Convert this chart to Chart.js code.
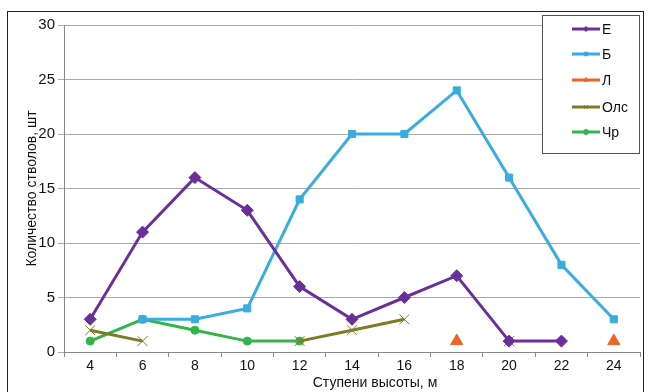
<!DOCTYPE html>
<html>
<head>
<meta charset="utf-8">
<script src="https://cdn.jsdelivr.net/npm/chart.js@4"></script>
<style>
  body { margin: 0; background: #fff; }
  #wrap { position: relative; width: 648px; height: 392px; }
  #frame { position: absolute; left: 7px; top: 11px; width: 637px; height: 400px; border: 1.5px solid #222; box-sizing: border-box; }
  #legend { position: absolute; left: 542px; top: 15px; width: 98px; height: 139px; background: #fff; border: 1px solid #555; box-sizing: border-box; font-family: Arial, "Liberation Sans", sans-serif; font-size: 14px; color: #111; }
  .item { position: absolute; left: 28px; height: 16px; display: flex; align-items: center; }
  .item canvas { margin-right: 1px; }
</style>
</head>
<body>
<div id="wrap">
  <canvas id="chart" width="648" height="392"></canvas>
  <div id="frame"></div>
  <div id="legend"></div>
</div>
<script>
// heights (m) and tree counts per species
const steps = ["4", "6", "8", "10", "12", "14", "16", "18", "20", "22", "24"];
const spruce = [3, 11, 16, 13, 6, 3, 5, 7, 1, 1, null];
const birch = [null, 3, 3, 4, 14, 20, 20, 24, 16, 8, 3];
const larch = [null, null, null, null, null, null, null, 1, null, null, 1];
const alder = [2, 1, null, null, 1, 2, 3, null, 1, null, null];
const cherry = [1, 3, 2, 1, 1, null, null, null, null, null, null];
const yTicks = [0, 5, 10, 15, 20, 25, 30];

const font = "Arial, 'Liberation Sans', sans-serif";

const series = [
  { label: "Е", data: spruce, color: "#6a2f98", style: "rectRot", r: 6 },
  { label: "Б", data: birch, color: "#39ace0", style: "rect", r: 5 },
  { label: "Л", data: larch, color: "#ef6424", style: "triangle", r: 7 },
  { label: "Олс", data: alder, color: "#7d7b24", style: "crossRot", r: 7 },
  { label: "Чр", data: cherry, color: "#34b44a", style: "circle", r: 4 }
];

// x axis title is drawn a bit right of centre, like the source
const xTitle = {
  id: "xTitle",
  afterDraw(chart) {
    const ctx = chart.ctx;
    ctx.save();
    ctx.font = "14px " + font;
    ctx.fillStyle = "#111";
    ctx.textAlign = "center";
    ctx.textBaseline = "middle";
    ctx.fillText("Ступени высоты, м", 375, 383);
    ctx.restore();
  }
};

new Chart(document.getElementById("chart"), {
  type: "line",
  data: {
    labels: steps,
    datasets: series.map(s => ({
      label: s.label,
      data: s.data,
      borderColor: s.color,
      backgroundColor: s.color,
      borderWidth: 3,
      pointStyle: s.style,
      pointRadius: s.r,
      pointBorderWidth: 1,
      pointBorderColor: s.color,
      pointBackgroundColor: s.color,
      spanGaps: false,
      tension: 0
    }))
  },
  options: {
    responsive: false,
    animation: false,
    layout: { padding: { left: 24, top: 25, right: 5, bottom: 0 } },
    plugins: { legend: { display: false }, tooltip: { enabled: false } },
    scales: {
      x: {
        offset: true,
        grid: { display: true, offset: true, drawOnChartArea: false, color: "#888", tickLength: 5 },
        border: { color: "#888", width: 1 },
        ticks: { color: "#111", font: { family: font, size: 14 }, padding: 1, maxRotation: 0 },
        afterFit: s => { s.height = 40; }
      },
      y: {
        min: 0, max: 30,
        afterBuildTicks: s => { s.ticks = yTicks.map(v => ({ value: v })); },
        grid: { color: "#aaa", lineWidth: 1, tickLength: 6 },
        border: { color: "#888", width: 1 },
        ticks: { color: "#111", font: { family: font, size: 15 }, padding: 3 },
        title: { display: true, text: "Количество стволов, шт", color: "#111", font: { family: font, size: 14 }, padding: { top: 0, bottom: 0 } },
        afterFit: s => { s.width = 40; }
      }
    }
  },
  plugins: [xTitle]
});

// legend in the upper right, Excel style
const legend = document.getElementById("legend");
const rows = [13, 38, 64, 91, 116];
series.forEach((s, i) => {
  const item = document.createElement("div");
  item.className = "item";
  item.style.top = (rows[i] - 8) + "px";
  const c = document.createElement("canvas");
  c.width = 30; c.height = 16;
  const ctx = c.getContext("2d");
  ctx.strokeStyle = s.color; ctx.lineWidth = 3;
  ctx.beginPath(); ctx.moveTo(1, 8); ctx.lineTo(29, 8); ctx.stroke();
  ctx.fillStyle = s.color;
  ctx.lineWidth = 1;
  Chart.helpers.drawPoint(ctx, { pointStyle: s.style, radius: 2.5, borderWidth: 1 }, 15, 8);
  item.appendChild(c);
  const t = document.createElement("span");
  t.textContent = s.label;
  item.appendChild(t);
  legend.appendChild(item);
});
</script>
</body>
</html>
